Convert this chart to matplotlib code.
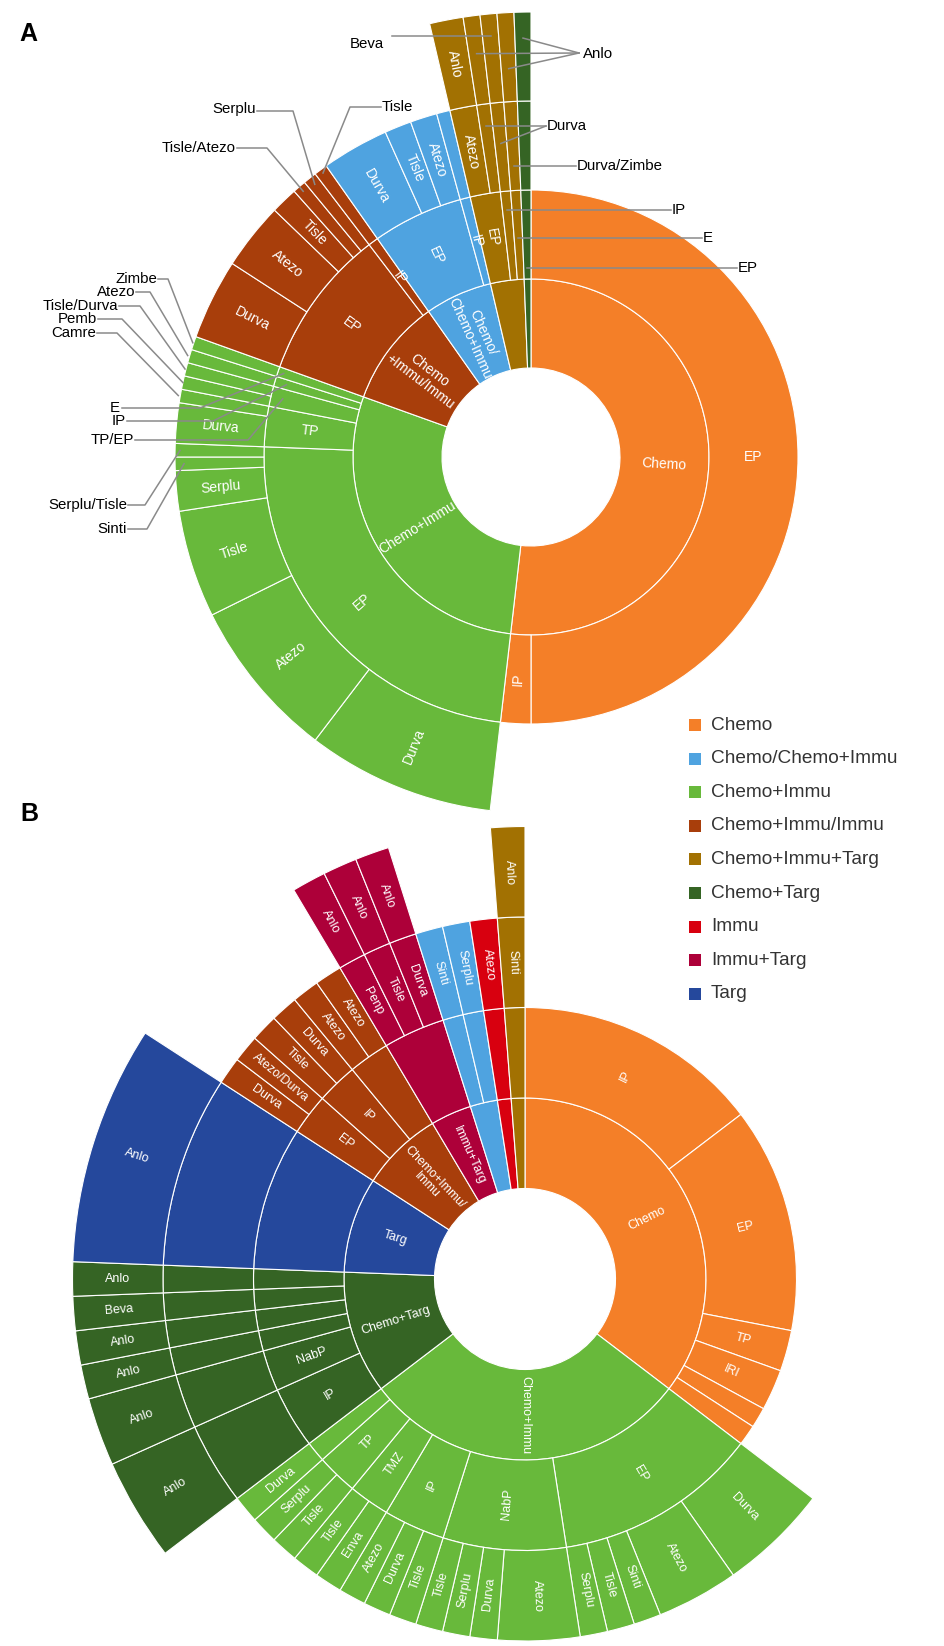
import matplotlib
matplotlib.use("Agg")
import matplotlib.pyplot as plt
from matplotlib.patches import Wedge, Rectangle
import numpy as np

plt.rcParams['font.family'] = ['Liberation Sans', 'DejaVu Sans']

categories = ["Chemo", "Chemo/Chemo+Immu", "Chemo+Immu", "Chemo+Immu/Immu",
              "Chemo+Immu+Targ", "Chemo+Targ", "Immu", "Immu+Targ", "Targ"]
colors = ["#F47F28", "#4FA3E0", "#68B93B", "#A83E0B",
          "#A27102", "#356424", "#D8000F", "#AD0039", "#25489C"]

# one leaf per entry, levels split by " > ", "#x" = unnamed node
a_paths = [
    "Chemo > EP", "Chemo > IP",
    "Chemo+Immu > EP > Durva", "Chemo+Immu > EP > Atezo", "Chemo+Immu > EP > Tisle",
    "Chemo+Immu > EP > Serplu", "Chemo+Immu > EP > Sinti", "Chemo+Immu > EP > Serplu/Tisle",
    "Chemo+Immu > TP > Durva", "Chemo+Immu > TP > Camre",
    "Chemo+Immu > TP/EP > Pemb", "Chemo+Immu > TP/EP > Tisle/Durva",
    "Chemo+Immu > IP > Atezo", "Chemo+Immu > E > Zimbe",
    "Chemo+Immu/Immu > EP > Durva", "Chemo+Immu/Immu > EP > Atezo", "Chemo+Immu/Immu > EP > Tisle",
    "Chemo+Immu/Immu > EP > Tisle/Atezo", "Chemo+Immu/Immu > EP > Serplu",
    "Chemo+Immu/Immu > IP > Tisle",
    "Chemo/Chemo+Immu > EP > Durva", "Chemo/Chemo+Immu > EP > Tisle",
    "Chemo/Chemo+Immu > EP > Atezo", "Chemo/Chemo+Immu > IP > #1",
    "Chemo+Immu+Targ > EP > Atezo > Anlo", "Chemo+Immu+Targ > EP > Durva > Anlo",
    "Chemo+Immu+Targ > IP > Durva > Beva", "Chemo+Immu+Targ > E > Durva/Zimbe > Anlo",
    "Chemo+Targ > EP > #1 > Anlo",
]
a_counts = [82, 3,
            14, 12, 8, 3, 1, 1, 3, 1, 1, 1, 1, 1,
            6, 5, 2, 1, 1, 1,
            5, 2, 2, 1,
            2, 1, 1, 1,
            1]

b_paths = [
    "Chemo > IP", "Chemo > EP", "Chemo > TP", "Chemo > IRI", "Chemo > #1", "Chemo > #2",
    "Chemo+Immu > EP > Durva", "Chemo+Immu > EP > Atezo", "Chemo+Immu > EP > Sinti",
    "Chemo+Immu > EP > Tisle", "Chemo+Immu > EP > Serplu",
    "Chemo+Immu > NabP > Atezo", "Chemo+Immu > NabP > Durva", "Chemo+Immu > NabP > Serplu",
    "Chemo+Immu > NabP > Tisle",
    "Chemo+Immu > IP > Tisle", "Chemo+Immu > IP > Durva", "Chemo+Immu > IP > Atezo",
    "Chemo+Immu > TMZ > Enva", "Chemo+Immu > TMZ > Tisle",
    "Chemo+Immu > TP > Tisle", "Chemo+Immu > TP > Serplu", "Chemo+Immu > #1 > Durva",
    "Chemo+Targ > IP > #1 > Anlo", "Chemo+Targ > NabP > #2 > Anlo",
    "Chemo+Targ > #3 > #4 > Anlo", "Chemo+Targ > #5 > #6 > Anlo",
    "Chemo+Targ > #7 > #8 > Beva", "Chemo+Targ > #9 > #10 > Anlo",
    "Targ > #1 > #2 > Anlo",
    "Chemo+Immu/Immu > EP > Durva", "Chemo+Immu/Immu > EP > Atezo/Durva",
    "Chemo+Immu/Immu > IP > Tisle", "Chemo+Immu/Immu > IP > Durva",
    "Chemo+Immu/Immu > #1 > Atezo", "Chemo+Immu/Immu > #1 > Atezo#2",
    "Immu+Targ > #1 > Penp > Anlo", "Immu+Targ > #1 > Tisle > Anlo",
    "Immu+Targ > #1 > Durva > Anlo",
    "Chemo/Chemo+Immu > #1 > Sinti", "Chemo/Chemo+Immu > #2 > Serplu",
    "Immu > #1 > Atezo",
    "Chemo+Immu+Targ > #1 > Sinti > Anlo",
]
b_counts = [12, 11, 2, 2, 1, 1,
            4, 3, 1, 1, 1, 3, 1, 1, 1, 1, 1, 1, 1, 1, 1, 1, 1,
            3, 2, 1, 1, 1, 1,
            7,
            1, 1, 1, 1, 1, 1,
            1, 1, 1,
            1, 1,
            1,
            1]

# labels of chart A drawn outside with a leader line:
# node, text, text x, text y, ha, line points, end radius (None = horizontal)
a_leaders = [
    ("Chemo+Immu+Targ > IP > Durva > Beva", "Beva", 367, 44, "center", [(392, 36)], None),
    ("Chemo+Targ > EP > #1 > Anlo", "Anlo", 583, 54, "left", [(579, 53)], 419),
    ("Chemo+Immu+Targ > EP > Durva > Anlo", None, 0, 0, "left", [(579, 53)], 407),
    ("Chemo+Immu+Targ > E > Durva/Zimbe > Anlo", None, 0, 0, "left", [(579, 53)], 389),
    ("Chemo+Immu+Targ > EP > Durva", "Durva", 547, 126, "left", [(546, 126)], None),
    ("Chemo+Immu+Targ > IP > Durva", None, 0, 0, "left", [(546, 126)], 315),
    ("Chemo+Immu+Targ > E > Durva/Zimbe", "Durva/Zimbe", 577, 166, "left", [(576, 166)], None),
    ("Chemo+Immu+Targ > IP", "IP", 672, 210, "left", [(671, 210)], None),
    ("Chemo+Immu+Targ > E", "E", 703, 238, "left", [(702, 238)], None),
    ("Chemo+Targ > EP", "EP", 738, 268, "left", [(737, 268)], None),
    ("Chemo+Immu/Immu > EP > Serplu", "Serplu", 256, 109, "right", [(257, 111), (293, 111)], 348),
    ("Chemo+Immu/Immu > EP > Tisle/Atezo", "Tisle/Atezo", 236, 148, "right", [(237, 148), (267, 148)], 350),
    ("Chemo+Immu/Immu > IP > Tisle", "Tisle", 382, 107, "left", [(381, 107), (350, 107)], 352),
    ("Chemo+Immu > E > Zimbe", "Zimbe", 157, 279, "right", [(158, 279), (168, 279)], 357),
    ("Chemo+Immu > IP > Atezo", "Atezo", 135, 292, "right", [(136, 292), (150, 292)], 358),
    ("Chemo+Immu > TP/EP > Tisle/Durva", "Tisle/Durva", 118, 306, "right", [(119, 306), (140, 306)], 357),
    ("Chemo+Immu > TP/EP > Pemb", "Pemb", 97, 319, "right", [(98, 319), (122, 319)], 356),
    ("Chemo+Immu > TP > Camre", "Camre", 96, 333, "right", [(97, 333), (117, 333)], 358),
    ("Chemo+Immu > E", "E", 120, 408, "right", [(122, 408), (200, 408)], 261),
    ("Chemo+Immu > IP", "IP", 126, 421, "right", [(127, 421), (213, 421)], 255),
    ("Chemo+Immu > TP/EP", "TP/EP", 134, 440, "right", [(135, 440), (248, 440)], 255),
    ("Chemo+Immu > EP > Serplu/Tisle", "Serplu/Tisle", 127, 505, "right", [(128, 505), (145, 505)], 351),
    ("Chemo+Immu > EP > Sinti", "Sinti", 127, 529, "right", [(128, 529), (147, 529)], 347),
]


def nodes_of(paths, counts):
    rows = [p.split(" > ") for p in paths]
    cum = np.concatenate([[0], np.cumsum(counts)])
    out = []
    for d in range(max(len(r) for r in rows)):
        i = 0
        while i < len(rows):
            if len(rows[i]) <= d:
                i += 1
                continue
            key = rows[i][:d + 1]
            j = i
            while j + 1 < len(rows) and rows[j + 1][:d + 1] == key:
                j += 1
            out.append((" > ".join(key), d, cum[i], cum[j + 1]))
            i = j + 1
    return out, cum[-1]


def sunburst(ax, paths, counts, cx, cy, unit, fs, hide, wrap):
    nodes, total = nodes_of(paths, counts)
    geo = {}
    for key, d, s, e in nodes:
        c1, c2 = 360.0 * s / total, 360.0 * e / total
        col = colors[categories.index(key.split(" > ")[0])]
        r0, r1 = unit * (d + 1), unit * (d + 2)
        ax.add_patch(Wedge((cx, cy), r1, c1 - 90, c2 - 90, width=unit,
                           facecolor=col, edgecolor='white', linewidth=0.8))
        mid = 0.5 * (c1 + c2)
        geo[key] = mid
        name = key.split(" > ")[-1].split("#")[0]
        if not name or key in hide:
            continue
        rm = 0.5 * (r0 + r1)
        x = cx + rm * np.sin(np.radians(mid))
        y = cy - rm * np.cos(np.radians(mid))
        rot = (180 - mid) % 180 - 90
        ax.text(x, y, wrap.get(key, name), rotation=rot, rotation_mode='anchor',
                ha='center', va='center', color='white', fontsize=fs, linespacing=1.0)
    return geo


fig = plt.figure(figsize=(9.45, 16.46), dpi=100)
ax = fig.add_axes([0, 0, 1, 1])
ax.set_xlim(0, 945)
ax.set_ylim(1646, 0)
ax.axis('off')

# chart A
ax_c, ay_c = 531, 457
hide_a = ["Chemo+Immu+Targ", "Chemo+Targ"] + [l[0] for l in a_leaders]
wrap_a = {"Chemo+Immu/Immu": "Chemo\n+Immu/Immu", "Chemo/Chemo+Immu": "Chemo/\nChemo+Immu"}
geo_a = sunburst(ax, a_paths, a_counts, ax_c, ay_c, 89, 10, hide_a, wrap_a)

for key, text, tx, ty, ha, pts, end_r in a_leaders:
    mid = np.radians(geo_a[key])
    if end_r is None:
        end_r = (ay_c - pts[-1][1]) / np.cos(mid)
    ex = ax_c + end_r * np.sin(mid)
    ey = ay_c - end_r * np.cos(mid)
    ax.plot([p[0] for p in pts] + [ex], [p[1] for p in pts] + [ey],
            color='#8a8a8a', lw=1.1, zorder=3)
    if text:
        ax.text(tx, ty, text, ha=ha, va='center', fontsize=10.8, color='black', zorder=4)

# chart B
hide_b = ["Chemo/Chemo+Immu", "Immu", "Chemo+Immu+Targ"]
wrap_b = {"Chemo+Immu/Immu": "Chemo+Immu/\nImmu"}
sunburst(ax, b_paths, b_counts, 525, 1279, 90.5, 9, hide_b, wrap_b)

# legend
for i, (cat, col) in enumerate(zip(categories, colors)):
    y = 725 + 33.6 * i
    ax.add_patch(Rectangle((689, y - 6), 12, 12, facecolor=col, edgecolor='none'))
    ax.text(711, y, cat, ha='left', va='center', fontsize=13.7, color='#333333')

ax.text(28, 34, "A", ha='center', va='center', fontsize=18, fontweight='bold')
ax.text(29, 814, "B", ha='center', va='center', fontsize=18, fontweight='bold')

fig.savefig("out.png", dpi=100)
